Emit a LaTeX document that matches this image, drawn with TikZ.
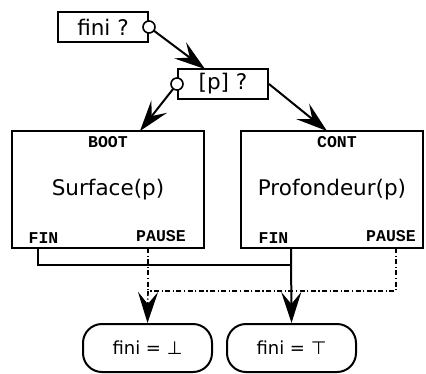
\documentclass[tikz,border=0pt]{standalone}
\usepackage{fontspec}
\setmainfont{DejaVu Sans}
\newfontfamily\labmono{Liberation Mono}
\usetikzlibrary{arrows.meta}
\begin{document}
\begin{tikzpicture}[x=1pt,y=-1pt,
  line width=2pt,
  box/.style={draw,rectangle,inner sep=0pt,line width=2pt},
  txt/.style={font=\fontsize{21.5}{24}\selectfont},
  lab/.style={font=\labmono\bfseries\fontsize{16.5}{18}\selectfont,inner sep=0pt},
  port/.style={draw,circle,fill=white,minimum size=12pt,inner sep=0pt,line width=1.6pt},
  arr/.style={-{Stealth[length=31pt,width=20pt,inset=12pt]}},
  endbox/.style={draw,rectangle,rounded corners=19pt,minimum width=129pt,minimum height=48pt,inner sep=0pt,line width=2pt,font=\fontsize{18}{20}\selectfont},
  dd/.style={line width=1.6pt,dash pattern=on 5pt off 2.5pt on 1.2pt off 2.5pt}]
\useasboundingbox (0,0) rectangle (426,373);
% boxes
\node[box,minimum width=90pt,minimum height=30pt,txt] (fini) at (103,27) {fini ?};
\node[box,minimum width=90pt,minimum height=30pt,txt] (pq) at (223,84) {[p] ?};
\node[box,minimum width=192pt,minimum height=117pt,txt] (surf) at (108,189.5) {Surface(p)};
\node[box,minimum width=182pt,minimum height=117pt,txt] (prof) at (332,189.5) {Profondeur(p)};
\node[lab] (boot) at (108,142) {BOOT};
\node[lab] (cont) at (337,142) {CONT};
\node[lab] (fin1) at (43.5,238) {FIN};
\node[lab] (pau1) at (161,236.5) {PAUSE};
\node[lab] (fin2) at (273.5,238) {FIN};
\node[lab] (pau2) at (391,236.5) {PAUSE};
\node[endbox] (bot) at (147.5,348) {fini = ⊥};
\node[endbox] (top) at (291.5,348) {fini = ⊤};
% coordinates
\coordinate (t1) at (205,69);
\coordinate (t2) at (140,131);
\coordinate (t3) at (327,131);
\coordinate (s1) at (38,248);
\coordinate (s2) at (291,248);
\coordinate (p1) at (148,248);
\coordinate (p2) at (396,248);
\coordinate (j1) at (291,265);
\coordinate (j2) at (148,291);
% connectors
\draw[arr] (fini.east) -- (t1);
\draw[arr] (pq.west) -- (t2);
\draw[arr] (pq.east) -- (t3);
\node[port] (c1) at (fini.east) {};
\node[port] (c2) at (pq.west) {};
\draw (s1) |- (j1);
\draw[arr] (s2) -- (top.north);
\draw[dd] (p1) -- (j2);
\draw[dd] (p2) |- (j2);
\draw[dd,arr] (j2) -- (bot.north);
\end{tikzpicture}
\end{document}
